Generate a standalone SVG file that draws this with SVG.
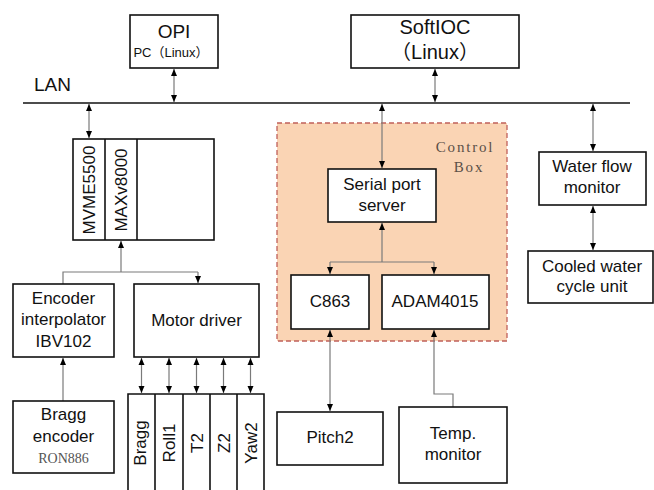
<svg xmlns="http://www.w3.org/2000/svg" width="654" height="490" viewBox="0 0 654 490">
<defs>
<marker id="ah" markerUnits="userSpaceOnUse" markerWidth="7" markerHeight="7" refX="7" refY="3" orient="auto-start-reverse" viewBox="0 0 7 6">
<path d="M0,0 L7,3 L0,6 z" fill="#000"/>
</marker>
<style>
.box{fill:#fff;stroke:#111;stroke-width:1.6}
.t{font-family:"Liberation Sans",Arial,sans-serif;font-size:17px;fill:#111;text-anchor:middle}
.c{fill:none;stroke:#7a7a7a;stroke-width:1.2}
.d{marker-start:url(#ah);marker-end:url(#ah)}
.e{marker-end:url(#ah)}
.cb{font-family:"Liberation Serif","Times New Roman",serif;font-size:15px;letter-spacing:1.8px;fill:#5a5048;text-anchor:middle}
</style>
</defs>
<rect width="654" height="490" fill="#fff"/>
<g id="control-box">
<rect x="277" y="123" width="230" height="218" fill="#fad4b4" stroke="#c0605a" stroke-width="1.3" stroke-dasharray="5,3"/>
<text class="cb" x="465" y="152">Control</text>
<text class="cb" x="469" y="172">Box</text>
</g>
<g id="lan">
<line x1="23" y1="103" x2="630" y2="103" stroke="#111" stroke-width="1.6"/>
<text x="34" y="91" font-family="'Liberation Sans',Arial,sans-serif" font-size="19" fill="#111">LAN</text>
</g>
<g id="connectors">
<line class="c d" x1="174" y1="69" x2="174" y2="102"/>
<line class="c d" x1="435" y1="69" x2="435" y2="102"/>
<line class="c d" x1="89" y1="104" x2="89" y2="138"/>
<line class="c d" x1="382" y1="104" x2="382" y2="168"/>
<line class="c d" x1="593" y1="104" x2="593" y2="151"/>
<line class="c d" x1="593" y1="206" x2="593" y2="250"/>
<line class="c e" x1="382" y1="262" x2="382" y2="223"/>
<path class="c" d="M330,262 H434"/>
<line class="c e" x1="330" y1="262" x2="330" y2="274"/>
<line class="c e" x1="434" y1="262" x2="434" y2="274"/>
<line class="c d" x1="330" y1="330" x2="330" y2="411"/>
<path class="c e" d="M453,407 V394 H434 V330"/>
<line class="c e" x1="121" y1="272" x2="121" y2="241"/>
<path class="c" d="M63,284 V272 H198"/>
<line class="c e" x1="198" y1="272" x2="198" y2="283"/>
<line class="c e" x1="63" y1="401" x2="63" y2="358"/>
<line class="c d" x1="141.5" y1="358" x2="141.5" y2="393"/>
<line class="c d" x1="169" y1="358" x2="169" y2="393"/>
<line class="c d" x1="196.5" y1="358" x2="196.5" y2="393"/>
<line class="c d" x1="223.5" y1="358" x2="223.5" y2="393"/>
<line class="c d" x1="250.5" y1="358" x2="250.5" y2="393"/>
</g>
<g id="opi">
<rect class="box" x="130" y="15" width="88" height="53"/>
<text class="t" x="174" y="38" style="font-size:19px">OPI</text>
<text class="t" x="171" y="57" style="font-size:13px;font-family:'Liberation Sans','Noto Sans CJK SC',sans-serif">PC（Linux）</text>
</g>
<g id="softioc">
<rect class="box" x="351" y="15" width="168" height="53"/>
<text class="t" x="435" y="34" style="font-size:20px">SoftIOC</text>
<text class="t" x="435" y="59" style="font-size:20px;font-family:'Liberation Sans','Noto Sans CJK SC',sans-serif">（Linux）</text>
</g>
<g id="vme">
<rect class="box" x="73" y="139" width="141" height="101"/>
<line x1="105" y1="139" x2="105" y2="240" stroke="#111" stroke-width="1.6"/>
<line x1="137" y1="139" x2="137" y2="240" stroke="#111" stroke-width="1.6"/>
<text class="t" transform="translate(95,190) rotate(-90)">MVME5500</text>
<text class="t" transform="translate(127,190) rotate(-90)">MAXv8000</text>
</g>
<g id="serial">
<rect class="box" x="328" y="169" width="108" height="53"/>
<text class="t" x="382" y="190">Serial port</text>
<text class="t" x="382" y="211">server</text>
</g>
<g id="water">
<rect class="box" x="539" y="152" width="107" height="53"/>
<text class="t" x="592" y="172">Water flow</text>
<text class="t" x="592" y="193">monitor</text>
</g>
<g id="cooled">
<rect class="box" x="528" y="251" width="125" height="52"/>
<text class="t" x="592" y="272">Cooled water</text>
<text class="t" x="592" y="292">cycle unit</text>
</g>
<g id="c863">
<rect class="box" x="291" y="275" width="78" height="54"/>
<text class="t" x="330" y="307">C863</text>
</g>
<g id="adam">
<rect class="box" x="382" y="275" width="107" height="54"/>
<text class="t" x="435" y="307">ADAM4015</text>
</g>
<g id="pitch2">
<rect class="box" x="277" y="412" width="106" height="53"/>
<text class="t" x="330" y="443">Pitch2</text>
</g>
<g id="temp">
<rect class="box" x="399" y="407" width="108" height="76"/>
<text class="t" x="453" y="439">Temp.</text>
<text class="t" x="453" y="460">monitor</text>
</g>
<g id="encoder-interp">
<rect class="box" x="13" y="284" width="101" height="73"/>
<text class="t" x="63.5" y="304">Encoder</text>
<text class="t" x="63.5" y="325">interpolator</text>
<text class="t" x="63.5" y="347">IBV102</text>
</g>
<g id="motor-driver">
<rect class="box" x="134" y="284" width="125" height="73"/>
<text class="t" x="196.5" y="326">Motor driver</text>
</g>
<g id="bragg-encoder">
<rect class="box" x="13" y="401" width="101" height="72"/>
<text class="t" x="63.5" y="420">Bragg</text>
<text class="t" x="63.5" y="442">encoder</text>
<text x="63.5" y="463" font-family="'Liberation Serif','Times New Roman',serif" font-size="14" fill="#555" text-anchor="middle">RON886</text>
</g>
<g id="axes">
<path d="M128,496 V394 H264 V496 M155,394 V496 M183,394 V496 M210,394 V496 M237,394 V496" fill="none" stroke="#111" stroke-width="1.6"/>
<text class="t" transform="translate(145.5,443) rotate(-90)">Bragg</text>
<text class="t" transform="translate(175,443) rotate(-90)">Roll1</text>
<text class="t" transform="translate(202.5,443) rotate(-90)">T2</text>
<text class="t" transform="translate(229.5,443) rotate(-90)">Z2</text>
<text class="t" transform="translate(256.5,443) rotate(-90)">Yaw2</text>
</g>
</svg>
